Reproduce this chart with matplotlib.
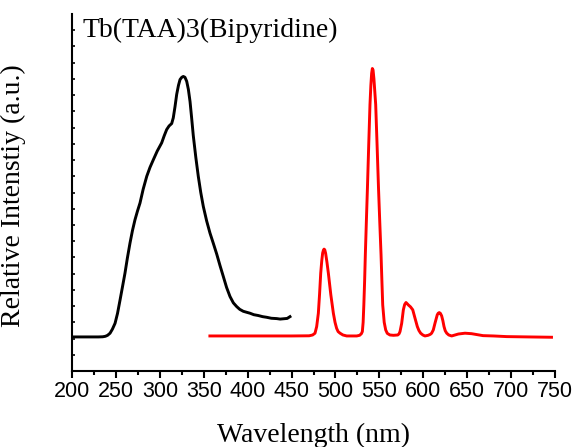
import numpy as np
import matplotlib
matplotlib.use("Agg")
import matplotlib.pyplot as plt

# excitation spectrum (black)
wl_exc = [200, 230, 235, 238, 240.5, 243.3, 246, 249, 251.8, 254.7, 257.5,
          260.3, 263, 266, 268.8, 271.7, 274.5, 277.4, 281, 285.1, 288.8,
          292.6, 297, 302.1, 305, 307.8, 310.5, 313.5, 315.3, 317.3, 319.2,
          321.2, 323, 325, 326.7, 328.6, 330.6, 332.5, 334.4, 336.2, 338.1,
          341, 343.8, 346.6, 349.5, 353.3, 357.1, 361, 364.8, 368.5, 372.3,
          376, 379.9, 383.7, 387.5, 391, 395, 398.8, 402.7, 407, 412, 417,
          421.7, 427, 433.1, 437, 441, 445, 448.2]
i_exc = [2.1, 2.1, 2.11, 2.14, 2.2, 2.33, 2.58, 2.94, 3.55, 4.38, 5.2,
         6.03, 6.95, 7.88, 8.65, 9.32, 9.85, 10.35, 11.2, 12.0, 12.55,
         13.02, 13.55, 14.06, 14.5, 14.88, 15.1, 15.25, 15.6, 16.3, 17.05,
         17.6, 17.96, 18.1, 18.15, 18.1, 17.85, 17.35, 16.6, 15.6, 14.5,
         13.15, 11.99, 11.0, 10.14, 9.25, 8.5, 7.85, 7.2, 6.5, 5.82,
         5.15, 4.59, 4.2, 3.97, 3.8, 3.68, 3.62, 3.56, 3.47, 3.42, 3.35,
         3.31, 3.25, 3.23, 3.2, 3.22, 3.24, 3.35]

# emission spectrum (red)
wl_em = [357, 400, 450, 470, 474, 476.7, 478.6, 480.5, 481.9, 483.2, 484.4,
         485.4, 486.3, 487, 487.8, 488.8, 490.3, 491.9, 494.7, 497.6, 499.5,
         501.3, 503, 505.2, 508.5, 512.8, 524.2, 527.5, 529.5, 530.6, 531.5,
         532.3, 533.2, 534, 535.2, 536.4, 537.9, 539.3, 540.3, 541.2, 542,
         542.8, 543.8, 545.8, 547.4, 549, 550.5, 551.9, 552.9, 553.8, 555.5,
         557.2, 559, 562, 566, 571, 572.5, 573.5, 575.4, 577.3, 578.8, 580.3,
         581.6, 583, 585.5, 588, 590.6, 593.2, 595, 597, 599.5, 601.9, 605.5,
         608, 609.5, 611.4, 613.3, 615.9, 617, 618.2, 619.5, 620.9, 622.3,
         623.6, 625, 626.7, 629, 632.3, 640, 647.5, 655, 668, 680, 695, 720,
         746]
i_em = [2.16, 2.16, 2.16, 2.17, 2.22, 2.33, 2.74, 3.56, 4.75, 6.03, 6.8,
        7.27, 7.45, 7.51, 7.47, 7.25, 6.7, 6.03, 4.7, 3.56, 3.0,
        2.63, 2.43, 2.33, 2.22, 2.16, 2.16, 2.2, 2.3, 2.43, 3.0,
        4.07, 5.55, 7.16, 9.25, 11.28, 14.0, 16.42, 17.6, 18.35, 18.64,
        18.55, 18.0, 16.42, 13.9, 11.28, 9.1, 7.16, 5.5, 4.07, 3.0,
        2.53, 2.32, 2.22, 2.2, 2.22, 2.3, 2.43, 2.94, 3.77, 4.1, 4.22,
        4.15, 4.07, 3.95, 3.77, 3.25, 2.74, 2.5, 2.33, 2.22, 2.16, 2.2,
        2.26, 2.33, 2.53, 2.94, 3.46, 3.56, 3.6, 3.55, 3.4, 3.1,
        2.74, 2.48, 2.33, 2.22, 2.16, 2.28, 2.33, 2.3, 2.18, 2.16, 2.12, 2.1,
        2.08]

x_ticks = np.arange(200, 751, 50)

fig = plt.figure(figsize=(5.73, 4.47), dpi=100)
ax = fig.add_axes([0.1257, 0.170, 0.8429, 0.7987])

ax.plot(wl_exc, i_exc, color="black", lw=2.1, solid_joinstyle="round")
ax.plot(wl_em, i_em, color="red", lw=2.1, solid_joinstyle="round")

ax.set_xlim(200, 750)
ax.set_ylim(0, 22)

for s in ["top", "right"]:
    ax.spines[s].set_visible(False)
for s in ["left", "bottom"]:
    ax.spines[s].set_linewidth(1.5)

ax.set_xticks(x_ticks)
ax.set_xticks(np.arange(225, 750, 50), minor=True)
ax.set_xticklabels([str(t) for t in x_ticks], family="Liberation Sans", fontsize=15.5)
ax.tick_params(axis="x", which="major", direction="out", length=5, width=1.5, pad=2)
ax.tick_params(axis="x", which="minor", direction="out", length=3, width=1.5)

ax.set_yticks(np.arange(0, 22, 1))
ax.set_yticklabels([])
ax.tick_params(axis="y", direction="in", length=2.5, width=1.2)

ax.set_xlabel("Wavelength (nm)", family="Liberation Serif", fontsize=20, labelpad=15)
ax.set_ylabel("Relative Intenstiy (a.u.)", family="Liberation Serif", fontsize=20)
ax.yaxis.set_label_coords(-0.095, 0.49)

ax.text(0.0207, 0.9356, "Tb(TAA)3(Bipyridine)", transform=ax.transAxes,
        family="Liberation Serif", fontsize=20, va="baseline", ha="left")

fig.savefig("out.png", dpi=100)
